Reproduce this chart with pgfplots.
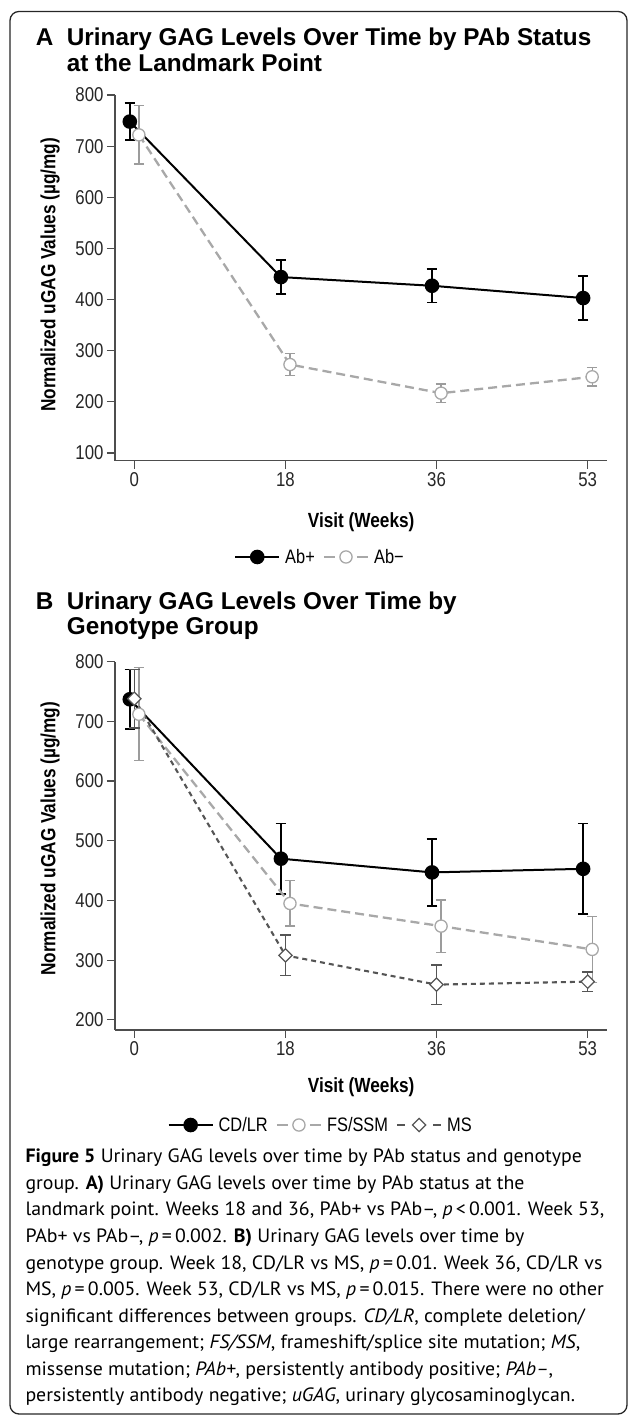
\documentclass[border=0pt]{standalone}
\usepackage{fontspec}
\setmainfont{Liberation Sans}
\newfontfamily\condf[FakeStretch=0.84]{Liberation Sans}
\newfontfamily\capfont[FakeStretch=1.03]{PT Sans}
\usepackage{pgfplots}
\pgfplotsset{compat=1.18}
\definecolor{lgray}{HTML}{A8A8A8}
\definecolor{egray}{HTML}{9C9C9C}
\definecolor{dgray}{HTML}{555555}
\definecolor{axgray}{HTML}{4D4D4D}
\newcommand\titlef{\bfseries\fontsize{24.3bp}{26bp}\selectfont}
\newcommand\capf{\capfont\fontsize{19.25bp}{26.5bp}\selectfont}

\pgfplotsset{
 gagaxis/.style={
  scale only axis, width=492.3bp,
  xmin=-0.128, xmax=3.13,
  axis lines*=left,
  axis line style={line width=1.2bp, axgray},
  tick style={line width=1.2bp, axgray},
  tick align=outside, major tick length=8bp,
  xtick={0,1,2,3}, xticklabels={0,18,36,53},
  ticklabel style={font=\condf\fontsize{20bp}{22bp}\selectfont, text=black!85},
  /pgf/number format/assume math mode=true,
  label style={font=\condf\bfseries\fontsize{20.5bp}{23bp}\selectfont},
  xlabel={Visit (Weeks)},
  ylabel={Normalized uGAG Values (µg/mg)},
  legend style={draw=none, fill=none, legend columns=-1,
    font=\condf\fontsize{19.5bp}{22bp}\selectfont,
    /tikz/every odd column/.append style={column sep=3bp},
    /tikz/every even column/.append style={column sep=6bp}},
  legend image code/.code={\draw[mark repeat=2, mark phase=2, #1] plot coordinates {(0bp,0bp) (22bp,0bp) (44bp,0bp)};},
  clip=false,
 },
 blkl/.style={black, line width=2bp, mark=*, mark size=6.3bp, mark options={solid, fill=black}},
 blk/.style={blkl,
   error bars/.cd, y dir=both, y explicit,
   error bar style={line width=1.5bp, black, solid},
   error mark options={rotate=90, mark size=5.3bp, line width=1.5bp, black, solid}},
 lgrl/.style={lgray, line width=2.3bp, mark=*, mark size=6.1bp,
   mark options={solid, fill=white, draw=lgray, line width=1.3bp}},
 lgr/.style={lgrl, dash pattern=on 9bp off 5bp,
   error bars/.cd, y dir=both, y explicit,
   error bar style={line width=1.3bp, egray, solid},
   error mark options={rotate=90, mark size=5.3bp, line width=1.3bp, egray, solid}},
 dgrl/.style={dgray, line width=2.1bp, mark=square*, mark size=4.7bp,
   mark options={solid, rotate=45, fill=white, draw=dgray, line width=1.2bp}},
 dgr/.style={dgrl, dash pattern=on 5bp off 4bp,
   error bars/.cd, y dir=both, y explicit,
   error bar style={line width=1.3bp, dgray, solid},
   error mark options={rotate=90, mark size=5.3bp, line width=1.3bp, dgray, solid}},
}

\begin{document}
\begin{tikzpicture}
\useasboundingbox (0,0) rectangle (629bp,1416bp);
\draw[line width=1.3bp, rounded corners=9bp, black!85] (10bp,1404.5bp) rectangle (627bp,2bp);

% Panel A title
\node[anchor=base west, inner sep=0pt, font=\titlef] at (35.7bp,1370bp) {A};
\node[anchor=base west, inner sep=0pt, font=\titlef] at (66.7bp,1370bp) {Urinary GAG Levels Over Time by PAb Status};
\node[anchor=base west, inner sep=0pt, font=\titlef] at (66.7bp,1344.3bp) {at the Landmark Point};

\begin{axis}[gagaxis, at={(115bp,955.3bp)}, anchor=south west,
  height=365.7bp, ymin=85, ymax=800, ytick={100,200,...,800},
  xlabel style={at={(axis description cs:0.5,-0.169)}, anchor=center},
  ylabel style={at={(axis description cs:-0.132,0.508)}, anchor=center},
  legend style={at={(axis description cs:0.4164,-0.2633)}, anchor=center}]
\addlegendimage{blkl}
\addlegendentry{Ab+}
\addlegendimage{lgrl, dash pattern=on 11bp off 22bp}
\addlegendentry{Ab−}
\addplot[forget plot, blk] table[x=x, y=y, y error=e] {
x y e
-0.03 748 36
0.97 444 33
1.97 427 33
2.97 403 43
};
\addplot[forget plot, lgr] table[x=x, y=y, y error=e] {
x y e
0.03 722 57
1.03 273 22
2.03 217 18
3.03 249 18
};
\end{axis}

% Panel B title
\node[anchor=base west, inner sep=0pt, font=\titlef] at (35.7bp,806bp) {B};
\node[anchor=base west, inner sep=0pt, font=\titlef] at (66.7bp,806bp) {Urinary GAG Levels Over Time by};
\node[anchor=base west, inner sep=0pt, font=\titlef] at (66.7bp,781bp) {Genotype Group};

\begin{axis}[gagaxis, at={(115bp,386bp)}, anchor=south west,
  height=368.3bp, ymin=183, ymax=800, ytick={200,300,...,800},
  xlabel style={at={(axis description cs:0.5,-0.156)}, anchor=center},
  ylabel style={at={(axis description cs:-0.132,0.519)}, anchor=center},
  legend style={at={(axis description cs:0.4178,-0.258)}, anchor=center}]
\addlegendimage{blkl}
\addlegendentry{CD/LR}
\addlegendimage{lgrl, dash pattern=on 11bp off 22bp}
\addlegendentry{FS/SSM}
\addlegendimage{dgrl, dash pattern=on 8bp off 28bp}
\addlegendentry{MS}
\addplot[forget plot, blk] table[x=x, y=y, y error=e] {
x y e
-0.03 737 50
0.97 470 59
1.97 447 56
2.97 453 76
};
\addplot[forget plot, lgr] table[x=x, y=y, y error=e] {
x y e
0.03 712 78
1.03 395 38
2.03 357 44
3.03 318 55
};
\addplot[forget plot, dgr] table[x=x, y=y, y error=e] {
x y e
0 738 49
1 308 34
2 259 33
3 264 16
};
\end{axis}

% Caption
\node[anchor=base west, inner sep=0pt, font=\capf] at (25.3bp,253bp) {\textbf{Figure 5} Urinary GAG levels over time by PAb status and genotype};
\node[anchor=base west, inner sep=0pt, font=\capf] at (25.3bp,226.5bp) {group. \textbf{A)} Urinary GAG levels over time by PAb status at the};
\node[anchor=base west, inner sep=0pt, font=\capf] at (25.3bp,200bp) {landmark point. Weeks 18 and 36, PAb+ vs PAb–, \textit{p}\,<\,0.001. Week 53,};
\node[anchor=base west, inner sep=0pt, font=\capf] at (25.3bp,173.4bp) {PAb+ vs PAb–, \textit{p}\,=\,0.002. \textbf{B)} Urinary GAG levels over time by};
\node[anchor=base west, inner sep=0pt, font=\capf] at (25.3bp,146.9bp) {genotype group. Week 18, CD/LR vs MS, \textit{p}\,=\,0.01. Week 36, CD/LR vs};
\node[anchor=base west, inner sep=0pt, font=\capf] at (25.3bp,120.4bp) {MS, \textit{p}\,=\,0.005. Week 53, CD/LR vs MS, \textit{p}\,=\,0.015. There were no other};
\node[anchor=base west, inner sep=0pt, font=\capf] at (25.3bp,93.9bp) {significant differences between groups. \textit{CD/LR}, complete deletion/};
\node[anchor=base west, inner sep=0pt, font=\capf] at (25.3bp,67.3bp) {large rearrangement; \textit{FS/SSM}, frameshift/splice site mutation; \textit{MS},};
\node[anchor=base west, inner sep=0pt, font=\capf] at (25.3bp,40.8bp) {missense mutation; \textit{PAb+}, persistently antibody positive; \textit{PAb–},};
\node[anchor=base west, inner sep=0pt, font=\capf] at (25.3bp,14.3bp) {persistently antibody negative; \textit{uGAG}, urinary glycosaminoglycan.};
\end{tikzpicture}
\end{document}
